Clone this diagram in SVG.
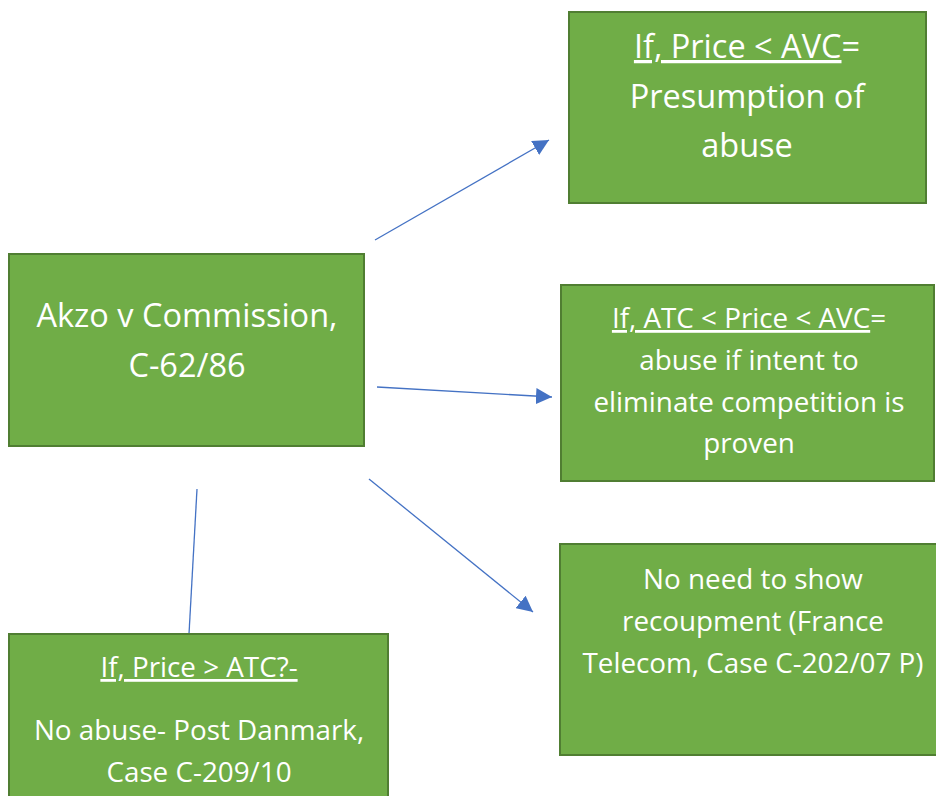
<svg xmlns="http://www.w3.org/2000/svg" width="936" height="796" viewBox="0 0 936 796">
<style>
.box{fill:#70AD47;stroke:#507E32;stroke-width:2}
.t{font-family:"Open Sans","Noto Sans",sans-serif;fill:#ffffff;text-anchor:middle}
.big{font-size:32.5px}
.sm{font-size:27.8px}
.u{text-decoration:underline}
.con{stroke:#4472C4;stroke-width:1.3;fill:none}
</style>
<defs>
<marker id="ah" markerUnits="userSpaceOnUse" markerWidth="18" markerHeight="16" refX="16" refY="8" orient="auto">
<path d="M0,0 L16,8 L0,16 Z" fill="#4472C4"/>
</marker>
</defs>
<rect width="936" height="796" fill="#ffffff"/>
<g id="connectors">
<line class="con" x1="375" y1="240" x2="549" y2="140" marker-end="url(#ah)"/>
<line class="con" x1="377" y1="387" x2="552" y2="397" marker-end="url(#ah)"/>
<line class="con" x1="369" y1="479" x2="533" y2="612" marker-end="url(#ah)"/>
<line class="con" x1="197" y1="489" x2="189" y2="634"/>
</g>
<g id="akzo">
<rect class="box" x="9" y="254" width="355" height="192"/>
<text class="t big" x="187" y="327">Akzo v Commission,</text>
<text class="t big" x="187" y="377">C-62/86</text>
</g>
<g id="below-avc">
<rect class="box" x="569" y="12" width="357" height="191"/>
<text class="t big" x="747" y="58"><tspan class="u">If, Price &lt; AVC</tspan>=</text>
<text class="t big" x="747" y="108">Presumption of</text>
<text class="t big" x="747" y="157">abuse</text>
</g>
<g id="between">
<rect class="box" x="561" y="285" width="373" height="196"/>
<text class="t sm" x="749" y="328"><tspan class="u">If, ATC &lt; Price &lt; AVC</tspan>=</text>
<text class="t sm" x="749" y="370">abuse if intent to</text>
<text class="t sm" x="749" y="412">eliminate competition is</text>
<text class="t sm" x="749" y="453">proven</text>
</g>
<g id="recoupment">
<rect class="box" x="560" y="544" width="378" height="211"/>
<text class="t sm" x="753" y="589">No need to show</text>
<text class="t sm" x="753" y="631">recoupment (France</text>
<text class="t sm" x="753" y="673">Telecom, Case C-202/07 P)</text>
</g>
<g id="above-atc">
<rect class="box" x="9" y="634" width="379" height="180"/>
<text class="t sm" x="199" y="677"><tspan class="u">If, Price &gt; ATC?-</tspan></text>
<text class="t sm" x="199" y="740">No abuse- Post Danmark,</text>
<text class="t sm" x="199" y="782">Case C-209/10</text>
</g>
</svg>
